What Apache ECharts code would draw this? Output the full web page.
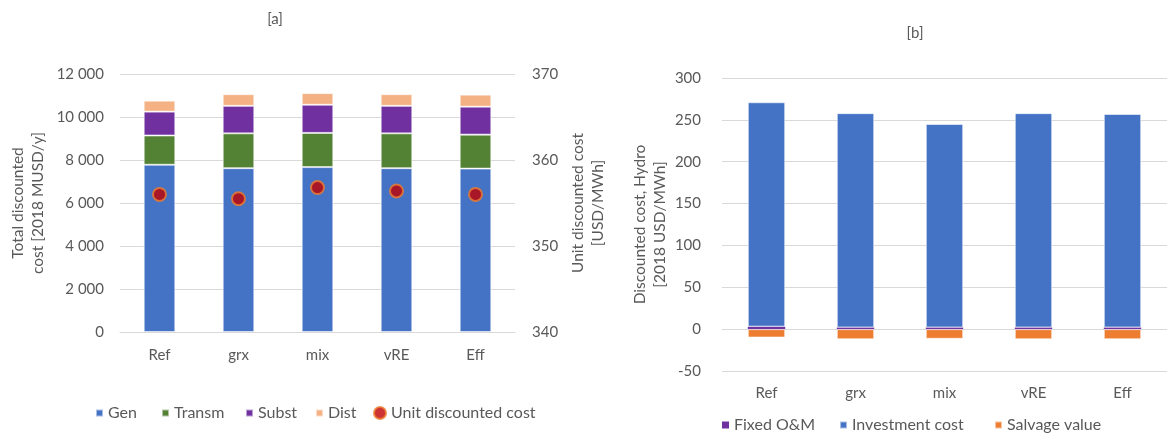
<!DOCTYPE html>
<html>
<head>
<meta charset="utf-8">
<script src="https://cdn.jsdelivr.net/npm/echarts@6/dist/echarts.min.js"></script>
<style>
  html, body { margin: 0; padding: 0; background: #fff; overflow: hidden; }
  #chart { width: 1167px; height: 435px; }
</style>
</head>
<body>
<div id="chart"></div>
<script>
// Scenarios shared by both panels
const categories = ['Ref', 'grx', 'mix', 'vRE', 'Eff'];

// Panel [a]: total discounted cost components [2018 MUSD/y]
const gen    = [7780, 7620, 7670, 7620, 7600];
const transm = [1360, 1620, 1590, 1620, 1580];
const subst  = [1110, 1280, 1310, 1280, 1300];
const dist   = [510, 540, 540, 540, 560];
// Unit discounted cost [USD/MWh], right axis
const unitCost = [356.0, 355.5, 356.8, 356.4, 356.0];

// Panel [b]: discounted cost, Hydro [2018 USD/MWh]
const fixedOM    = [3, 2, 2, 2, 2];
const investment = [268, 256, 243, 256, 255];
const salvage    = [-10, -12, -11.5, -12, -12];

// Axis ticks
const leftTicks  = { min: 0, max: 12000, interval: 2000 };
const rightTicks = { min: 340, max: 370, interval: 10 };
const hydroTicks = { min: -50, max: 300, interval: 50 };

const FONT = 'Lato';
const TXT = '#595959';
const GRID_LINE = '#D9D9D9';
const TICK_SIZE = 15;
const NAME_SIZE = 15.5;

const barEdge = { borderColor: 'rgba(255,255,255,0.55)', borderWidth: 1 };
const dotStyle = { color: '#C00000', borderColor: '#ED7D31', borderWidth: 2 };

function thousands(v) {
  return String(v).replace(/\B(?=(\d{3})+(?!\d))/g, ' ');
}

// One legend component per entry so each key sits at its own x position
function legendItem(name, left, top, icon, extra) {
  const isDot = icon === 'circle';
  return {
    left: left, top: top, padding: 0,
    itemWidth: isDot ? 12 : 7, itemHeight: isDot ? 12 : 7,
    selectedMode: false,
    textStyle: { fontFamily: FONT, fontSize: 16, color: TXT, lineHeight: 18 },
    data: [Object.assign({ name: name, icon: icon }, extra || {})]
  };
}

const chart = echarts.init(document.getElementById('chart'), null, { renderer: 'canvas' });

const option = {
  animation: false,
  backgroundColor: '#fff',
  textStyle: { fontFamily: FONT, color: TXT },
  title: [
    { text: '[a]', left: 270, top: 7, textAlign: 'center',
      textStyle: { fontFamily: FONT, fontSize: 15, fontWeight: 'normal', color: TXT } },
    { text: '[b]', left: 910, top: 21, textAlign: 'center',
      textStyle: { fontFamily: FONT, fontSize: 15, fontWeight: 'normal', color: TXT } }
  ],
  legend: [
    legendItem('Gen', 95, 404, 'rect'),
    legendItem('Transm', 161, 404, 'rect'),
    legendItem('Subst', 245, 404, 'rect'),
    legendItem('Dist', 315, 404, 'rect'),
    legendItem('Unit discounted cost', 373, 404, 'circle', { itemStyle: dotStyle }),
    legendItem('Fixed O&M', 722, 416, 'rect'),
    legendItem('Investment cost', 839, 416, 'rect'),
    legendItem('Salvage value', 994, 416, 'rect')
  ],
  grid: [
    { left: 120, right: 652, top: 74, bottom: 103 },
    { left: 722, right: -5, top: 78, bottom: 64 }
  ],
  xAxis: [
    {
      type: 'category', gridIndex: 0, data: categories,
      axisLine: { lineStyle: { color: GRID_LINE, width: 1 } },
      axisTick: { show: false },
      axisLabel: { fontFamily: FONT, fontSize: TICK_SIZE, color: TXT, margin: 16 }
    },
    {
      type: 'category', gridIndex: 1, data: categories,
      axisLine: { onZero: true, lineStyle: { color: GRID_LINE, width: 1 } },
      axisTick: { show: false },
      axisLabel: { fontFamily: FONT, fontSize: TICK_SIZE, color: TXT, margin: 15 }
    }
  ],
  yAxis: [
    {
      type: 'value', gridIndex: 0,
      min: leftTicks.min, max: leftTicks.max, interval: leftTicks.interval,
      name: 'Total discounted\ncost [2018 MUSD/y]',
      nameLocation: 'middle', nameGap: 72, nameRotate: 90,
      nameTextStyle: { fontFamily: FONT, fontSize: NAME_SIZE, color: TXT, lineHeight: 20 },
      axisLine: { show: false }, axisTick: { show: false },
      axisLabel: { fontFamily: FONT, fontSize: TICK_SIZE, color: TXT, margin: 16, formatter: thousands },
      splitLine: { lineStyle: { color: GRID_LINE, width: 1 } }
    },
    {
      type: 'value', gridIndex: 0, position: 'right',
      min: rightTicks.min, max: rightTicks.max, interval: rightTicks.interval,
      name: 'Unit discounted cost\n[USD/MWh]',
      nameLocation: 'middle', nameGap: 53, nameRotate: 90,
      nameTextStyle: { fontFamily: FONT, fontSize: NAME_SIZE, color: TXT, lineHeight: 20 },
      axisLine: { show: false }, axisTick: { show: false },
      axisLabel: { fontFamily: FONT, fontSize: TICK_SIZE, color: TXT, margin: 17 },
      splitLine: { show: false }
    },
    {
      type: 'value', gridIndex: 1,
      min: hydroTicks.min, max: hydroTicks.max, interval: hydroTicks.interval,
      name: 'Discounted cost, Hydro\n[2018 USD/MWh]',
      nameLocation: 'middle', nameGap: 52, nameRotate: 90,
      nameTextStyle: { fontFamily: FONT, fontSize: NAME_SIZE, color: TXT, lineHeight: 20 },
      axisLine: { show: false }, axisTick: { show: false },
      axisLabel: { fontFamily: FONT, fontSize: TICK_SIZE, color: TXT, margin: 21 },
      splitLine: { lineStyle: { color: GRID_LINE, width: 1 } }
    }
  ],
  series: [
    { name: 'Gen', type: 'bar', stack: 'a', xAxisIndex: 0, yAxisIndex: 0, barWidth: '40%',
      data: gen, itemStyle: Object.assign({ color: '#4472C4' }, barEdge) },
    { name: 'Transm', type: 'bar', stack: 'a', xAxisIndex: 0, yAxisIndex: 0,
      data: transm, itemStyle: Object.assign({ color: '#548235' }, barEdge) },
    { name: 'Subst', type: 'bar', stack: 'a', xAxisIndex: 0, yAxisIndex: 0,
      data: subst, itemStyle: Object.assign({ color: '#7030A0' }, barEdge) },
    { name: 'Dist', type: 'bar', stack: 'a', xAxisIndex: 0, yAxisIndex: 0,
      data: dist, itemStyle: Object.assign({ color: '#F4B183' }, barEdge) },
    { name: 'Unit discounted cost', type: 'scatter', xAxisIndex: 0, yAxisIndex: 1,
      data: unitCost, symbol: 'circle', symbolSize: 13, z: 5, itemStyle: dotStyle },

    { name: 'Fixed O&M', type: 'bar', stack: 'b', xAxisIndex: 1, yAxisIndex: 2, barWidth: '42%',
      data: fixedOM, itemStyle: { color: '#7030A0' } },
    { name: 'Investment cost', type: 'bar', stack: 'b', xAxisIndex: 1, yAxisIndex: 2,
      data: investment, itemStyle: Object.assign({ color: '#4472C4' }, barEdge) },
    { name: 'Salvage value', type: 'bar', stack: 'b', xAxisIndex: 1, yAxisIndex: 2,
      data: salvage, itemStyle: Object.assign({ color: '#ED7D31' }, barEdge) }
  ]
};

chart.setOption(option);
</script>
</body>
</html>
